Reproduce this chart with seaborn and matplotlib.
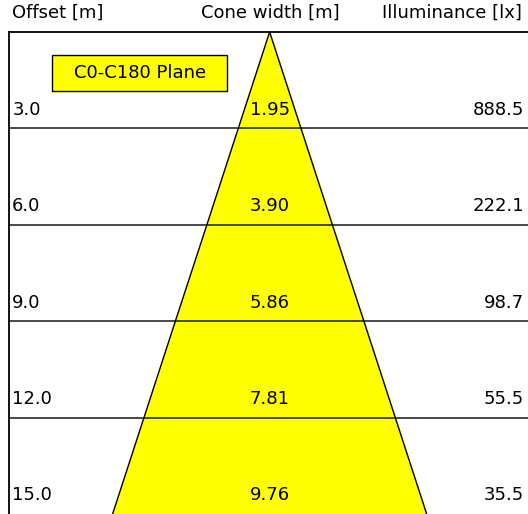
import matplotlib
matplotlib.use("Agg")
import matplotlib.pyplot as plt
from matplotlib.patches import Rectangle
import seaborn as sns
import pandas as pd

# --- data ---
offsets = [3.0, 6.0, 9.0, 12.0, 15.0]
cone_widths = [1.95, 3.90, 5.86, 7.81, 9.76]
illuminance = [888.5, 222.1, 98.7, 55.5, 35.5]
plane_label = "C0-C180 Plane"
headers = ["Offset [m]", "Cone width [m]", "Illuminance [lx]"]

sns.set_theme(style="white")
plt.rcParams["font.family"] = ["DejaVu Sans"]
plt.rcParams["text.color"] = "black"

fig = plt.figure(figsize=(5.28, 5.14), dpi=100)
ax = fig.add_axes([9 / 528, 0, 519 / 528, 482 / 514])

# cone outline: apex at 0, half-width at each offset
ys = [0.0] + offsets
half = [0.0] + [w / 2 for w in cone_widths]
ax.fill_betweenx(ys, [-h for h in half], half, color="#ffff00", zorder=1)
edges = pd.DataFrame({
    "x": [-h for h in half] + half,
    "y": ys + ys,
    "side": ["left"] * len(ys) + ["right"] * len(ys),
})
sns.lineplot(data=edges, x="x", y="y", units="side", estimator=None,
             sort=False, color="black", lw=1, ax=ax, zorder=3)

# row separators
for off in offsets[:-1]:
    ax.axhline(off, color="#3a3a3a", lw=1.3, zorder=2)

xmin, xmax = -8.1, 8.03
ax.set_xlim(xmin, xmax)
ax.set_ylim(15, 0)

fs = 13
for off, w, lx in zip(offsets, cone_widths, illuminance):
    yt = off - 0.58
    ax.text(xmin + 0.1, yt, f"{off:.1f}", ha="left", va="center", fontsize=fs, zorder=4)
    ax.text(0, yt, f"{w:.2f}", ha="center", va="center", fontsize=fs, zorder=4)
    ax.text(xmax - 0.13, yt, f"{lx:.1f}", ha="right", va="center", fontsize=fs, zorder=4)

# plane label box
ax.add_patch(Rectangle((0.083, 0.878), 0.338, 0.074, transform=ax.transAxes,
                       fc="#ffff00", ec="black", lw=1, zorder=4))
ax.text(0.252, 0.915, plane_label, transform=ax.transAxes, ha="center",
        va="center", fontsize=fs, zorder=5)

hy = 1 - 13 / 514
fig.text(12 / 528, hy, headers[0], ha="left", va="center", fontsize=fs)
fig.text(270 / 528, hy, headers[1], ha="center", va="center", fontsize=fs)
fig.text(522 / 528, hy, headers[2], ha="right", va="center", fontsize=fs)

ax.set_xticks([])
ax.set_yticks([])
ax.set_xlabel("")
ax.set_ylabel("")
for s in ["left", "top"]:
    ax.spines[s].set_color("black")
    ax.spines[s].set_linewidth(1.3)
ax.spines["right"].set_visible(False)
ax.spines["bottom"].set_visible(False)

fig.savefig("out.png", dpi=100)
